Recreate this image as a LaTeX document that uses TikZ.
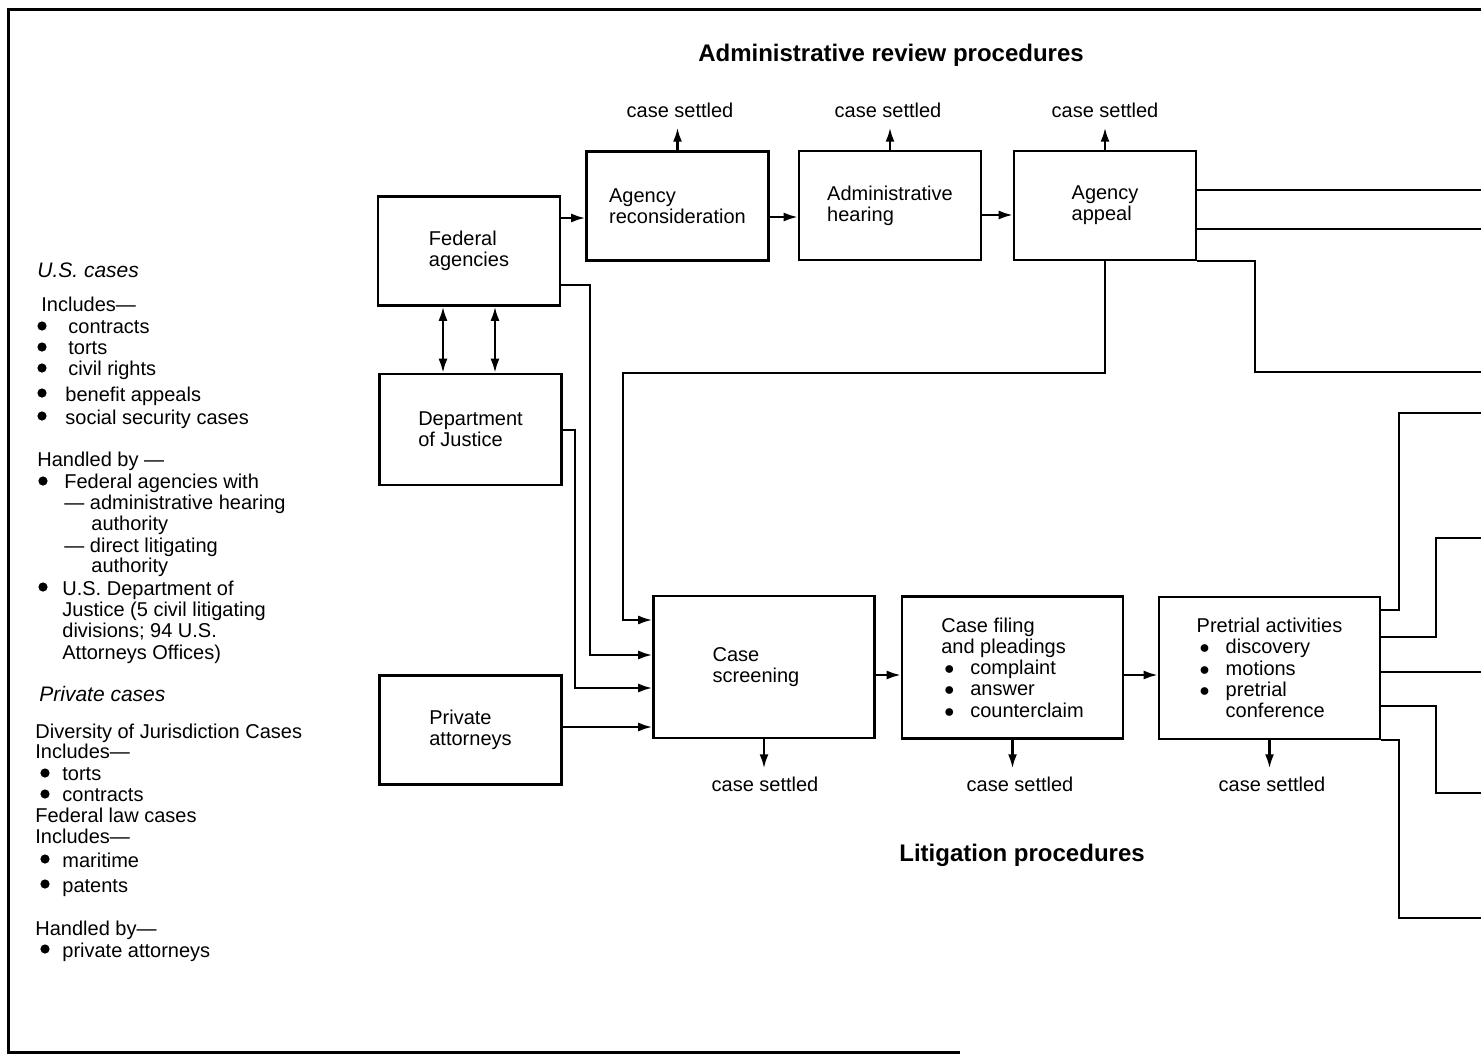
\documentclass[tikz,border=0pt]{standalone}
\usepackage{fontspec}
\setmainfont{Liberation Sans}
\usetikzlibrary{arrows.meta}
\newcommand{\dotitem}{\hspace*{1.5pt}$\bullet$\hspace{8pt}}
\tikzset{
  box/.style={draw, line width=1.3pt, align=left, minimum width=91pt, minimum height=54.5pt, inner sep=0pt},
  bigbox/.style={box, minimum width=110.5pt, minimum height=71pt},
  lbl/.style={inner sep=1pt},
  note/.style={inner sep=0pt, anchor=base west},
  heading/.style={font=\fontsize{12}{14}\selectfont\bfseries},
  wire/.style={line width=1.1pt},
  arr/.style={wire, -{Latex[length=7pt,width=4.5pt]}},
  darr/.style={wire, {Latex[length=7pt,width=4.5pt]}-{Latex[length=7pt,width=4.5pt]}}
}
\begin{document}
\begin{tikzpicture}[x=0.5pt, y=-0.5pt, font=\fontsize{10}{10.6}\selectfont]
      \useasboundingbox (0,0) rectangle (1481,1054);
      \draw[line width=1.5pt] (1481,10) -- (8,10) -- (8,1052) -- (960,1052);

      \node[heading] (adtitle) at (891,55) {Administrative review procedures};
      \node[heading] (littitle) at (1022,855) {Litigation procedures};

      \node[box] (fa) at (469,251) {Federal\\agencies};
      \node[box, minimum height=55.5pt] (doj) at (470.5,429.5) {Department\\of Justice};
      \node[box] (priv) at (470.5,730) {Private\\attorneys};
      \node[box] (recon) at (677.5,206) {Agency\\reconsideration};
      \node[box] (hear) at (890,205.5) {Administrative\\hearing};
      \node[box] (appeal) at (1105,205.5) {Agency\\appeal};
      \node[bigbox] (screen) at (764,667) {Case\\screening\hspace*{8pt}};
      \node[bigbox] (filing) at (1012.5,667.5) {Case filing\\and pleadings\\\dotitem complaint\\\dotitem answer\\\dotitem counterclaim};
      \node[bigbox] (pre) at (1269.5,668) {Pretrial activities\\\dotitem discovery\\\dotitem motions\\\dotitem pretrial\\\phantom{\dotitem}conference};

      \node[lbl] (cs1) at (680,110) {case settled};
      \node[lbl] (cs2) at (888,110) {case settled};
      \node[lbl] (cs3) at (1105,110) {case settled};
      \node[lbl] (cs4) at (765,784) {case settled};
      \node[lbl] (cs5) at (1020,784) {case settled};
      \node[lbl] (cs6) at (1272,784) {case settled};

      \draw[arr, shorten >=4pt] (recon.north) -- (recon.north |- cs1.south);
      \draw[arr, shorten >=4pt] (hear.north) -- (hear.north |- cs2.south);
      \draw[arr, shorten >=4pt] (appeal.north) -- (appeal.north |- cs3.south);
      \draw[arr, shorten >=3pt] (screen.south) -- (screen.south |- cs4.north);
      \draw[arr, shorten >=3pt] (filing.south) -- (filing.south |- cs5.north);
      \draw[arr, shorten >=3pt] (pre.south) -- (pre.south |- cs6.north);

      \draw[arr] (fa.east |- 0,218) -- (recon.west |- 0,218);
      \draw[arr] (recon.east |- 0,217) -- (hear.west |- 0,217);
      \draw[arr] (hear.east |- 0,215) -- (appeal.west |- 0,215);
      \draw[arr] (screen.east |- 0,675) -- (filing.west |- 0,675);
      \draw[arr] (filing.east |- 0,675) -- (pre.west |- 0,675);
      \draw[darr] (fa.south -| 443,0) -- (doj.north -| 443,0);
      \draw[darr] (fa.south -| 495,0) -- (doj.north -| 495,0);

      \draw[arr] (appeal.south) |- (623,373) |- (screen.west |- 0,620);
      \draw[arr] (fa.east |- 0,285) -- (590,285) |- (screen.west |- 0,655);
      \draw[arr] (doj.east |- 0,430) -- (575,430) |- (screen.west |- 0,688);
      \draw[arr] (priv.east |- 0,727) -- (screen.west |- 0,727);

      \coordinate (a1) at (1481,190);
      \coordinate (a2) at (1481,229);
      \coordinate (a3) at (1481,372);
      \coordinate (p1) at (1481,413);
      \coordinate (p2) at (1481,538);
      \coordinate (p3) at (1481,672);
      \coordinate (p4) at (1481,793);
      \coordinate (p5) at (1481,918);
      \draw[wire] (appeal.east |- a1) -- (a1);
      \draw[wire] (appeal.east |- a2) -- (a2);
      \draw[wire] (appeal.south east) -| (1255,372) -- (a3);
      \draw[wire] (pre.east |- 0,610) -| (1399,413) -- (p1);
      \draw[wire] (pre.east |- 0,637) -| (1436,538) -- (p2);
      \draw[wire] (pre.east |- p3) -- (p3);
      \draw[wire] (pre.east |- 0,706) -| (1436,793) -- (p4);
      \draw[wire] (pre.south east) -| (1399,918) -- (p5);

      \node[note, font=\fontsize{10.5}{12}\selectfont\itshape] (uscases) at (37,277) {U.S. cases};
      \node[note, font=\fontsize{10.5}{12}\selectfont\itshape] (prcases) at (39,701) {Private cases};
      \foreach \x/\y/\t [count=\i] in {41/311/Includes—, 68/333/contracts, 68/354/torts, 68/375/civil rights,
            65/401/benefit appeals, 65/424/social security cases, 37/466/Handled by —,
            64/488/Federal agencies with, 64/509/— administrative hearing, 91/530/authority,
            64/552/— direct litigating, 91/572/authority, 62/595/U.S. Department of,
            62/616/Justice (5 civil litigating, 62/637/divisions; 94 U.S., 62/659/Attorneys Offices),
            35/738/Diversity of Jurisdiction Cases, 35/758/Includes—, 62/780/torts, 62/801/contracts,
            35/822/Federal law cases, 35/843/Includes—, 62/867/maritime, 62/892/patents,
            35/935/Handled by—, 62/957/private attorneys}
        \node[note] (n\i) at (\x,\y) {\t};
      \foreach \x/\y in {42/326, 42/347, 42/368, 42/393, 42/416, 43/481, 43/587,
            45/773, 45/794, 45/859, 45/884, 45/949}
        \fill (\x,\y) circle (2.3pt);
\end{tikzpicture}
\end{document}
